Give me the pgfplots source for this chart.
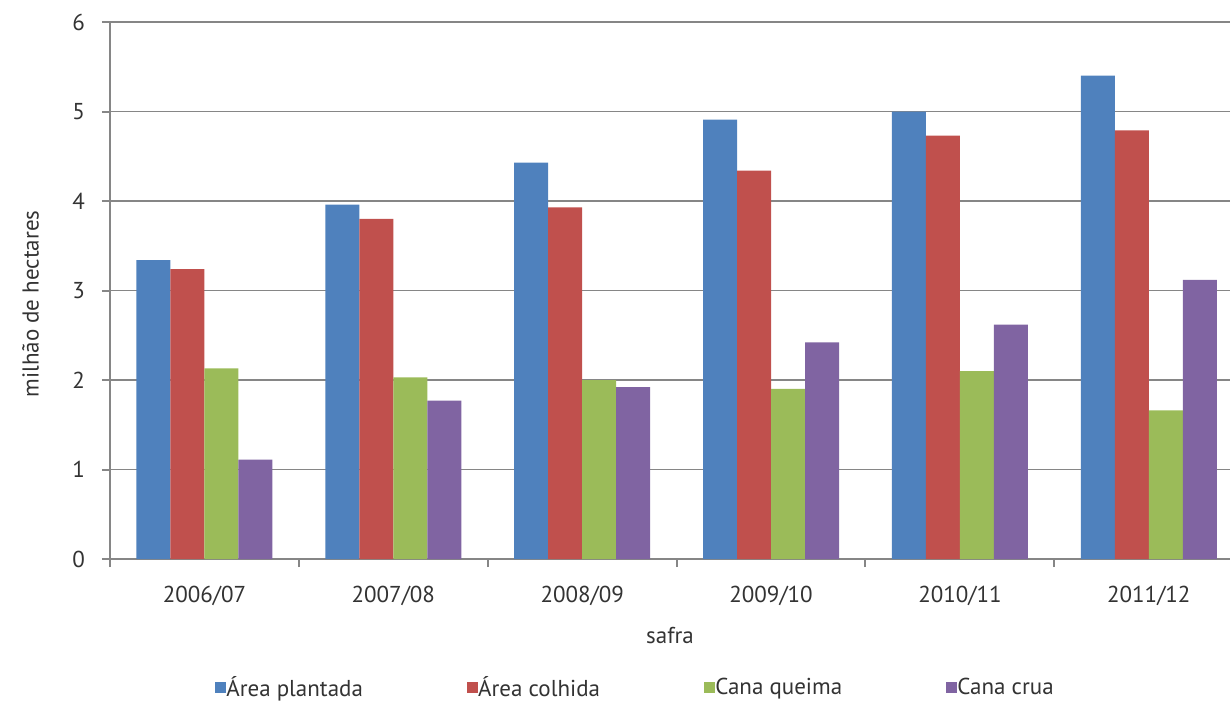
\documentclass[border=0pt]{standalone}
\usepackage{pgfplots}
\pgfplotsset{compat=1.18}
\usepackage{fontspec}
\setmainfont{PT Sans}
\definecolor{cblue}{HTML}{4F81BD}
\definecolor{cred}{HTML}{C0504D}
\definecolor{cgreen}{HTML}{9BBB59}
\definecolor{cpurple}{HTML}{8064A2}
\definecolor{cgrid}{HTML}{868686}
\begin{document}
\begin{tikzpicture}
\begin{axis}[
  scale only axis,
  width=560pt, height=268.5pt,
  xmin=-0.5, xmax=5.43,
  ymin=0, ymax=6,
  ybar=0pt, bar width=0.18,
  axis x line*=bottom, axis y line*=left,
  axis line style={draw=cgrid, line width=1pt},
  ymajorgrids, grid style={draw=cgrid, line width=0.9pt},
  ytick={0,1,2,3,4,5,6},
  xtick={-0.5,0.5,1.5,2.5,3.5,4.5}, xticklabels={},
  extra x ticks={0,1,2,3,4,5},
  extra x tick labels={2006/07,2007/08,2008/09,2009/10,2010/11,2011/12},
  extra x tick style={major tick length=0pt, grid=none},
  tick align=outside, major tick length=4pt,
  tick style={draw=cgrid, line width=1pt},
  font=\fontsize{11.5}{13}\selectfont,
  /pgf/number format/assume math mode=true,
  xticklabel style={yshift=-10pt, text=black!80},
  yticklabel style={xshift=-5pt, text=black!80},
  xlabel={safra},
  xlabel style={at={(axis description cs:0.5,-0.143)}, anchor=center, text=black!80},
  ylabel={milhão de hectares},
  ylabel style={at={(axis description cs:-0.071,0.475)}, anchor=center, text=black!80},
  legend columns=4,
  legend style={at={(axis description cs:0.47,-0.24)}, anchor=center, draw=none,
    font=\fontsize{11.5}{13}\selectfont, text=black!80,
    /tikz/every even column/.append style={column sep=50pt},
    /tikz/every odd column/.append style={column sep=-2pt}},
  legend image code/.code={\fill[#1] (0pt,-2.8pt) rectangle (5.6pt,2.8pt);},
]
\addplot[fill=cblue, draw=none] coordinates {(0,3.34) (1,3.96) (2,4.43) (3,4.91) (4,5.00) (5,5.40)};
\addplot[fill=cred, draw=none] coordinates {(0,3.24) (1,3.80) (2,3.93) (3,4.34) (4,4.73) (5,4.79)};
\addplot[fill=cgreen, draw=none] coordinates {(0,2.13) (1,2.03) (2,2.00) (3,1.90) (4,2.10) (5,1.66)};
\addplot[fill=cpurple, draw=none] coordinates {(0,1.11) (1,1.77) (2,1.92) (3,2.42) (4,2.62) (5,3.12)};
\legend{Área plantada, Área colhida, Cana queima, Cana crua}
\coordinate (sw) at (rel axis cs:0,0);
\coordinate (ne) at (rel axis cs:1,1);
\end{axis}
\pgfresetboundingbox
\path ([xshift=-55pt,yshift=-71.5pt]sw) rectangle ([yshift=11pt]ne);
\end{tikzpicture}
\end{document}
